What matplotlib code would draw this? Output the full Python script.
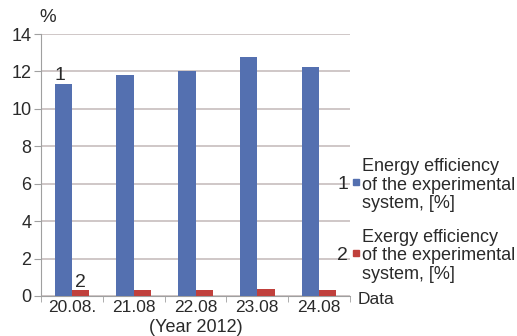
import matplotlib.pyplot as plt
import numpy as np

plt.rcParams["font.family"] = ["Liberation Sans", "DejaVu Sans"]

dates = ["20.08.", "21.08", "22.08", "23.08", "24.08"]
energy = [11.33, 11.8, 12.0, 12.76, 12.23]
exergy = [0.3, 0.3, 0.3, 0.4, 0.3]
series_labels = ["Energy efficiency\nof the experimental\nsystem, [%]",
                 "Exergy efficiency\nof the experimental\nsystem, [%]"]
yticks = [0, 2, 4, 6, 8, 10, 12, 14]

blue = "#5470b0"
red = "#c0403c"
grid_c = "#cfc7c7"
axis_c = "#a0a0a0"
txt_c = "#2a2a2a"

fig = plt.figure(figsize=(5.17, 3.36), dpi=100)
ax = fig.add_axes([41 / 517, 1 - 296 / 336, 309 / 517, 262 / 336])

x = np.arange(len(dates))
w = 0.28
ax.bar(x - w / 2, energy, w, color=blue, zorder=3)
ax.bar(x + w / 2, exergy, w, color=red, zorder=3)

ax.set_xlim(-0.5, len(dates) - 0.5)
ax.set_ylim(0, 14)
ax.set_yticks(yticks)
ax.yaxis.grid(True, color=grid_c, lw=1.4, zorder=0)
for s in ["top", "right"]:
    ax.spines[s].set_visible(False)
ax.spines["left"].set_color(axis_c)
ax.spines["bottom"].set_color(axis_c)
ax.tick_params(axis="y", length=5, color=axis_c, labelsize=13, pad=2,
               labelcolor=txt_c)
ax.set_xticks(np.arange(len(dates) + 1) - 0.5, minor=True)
ax.tick_params(axis="x", which="minor", length=4, color=axis_c)
ax.set_xticks(x)
ax.set_xticklabels(dates)
ax.tick_params(axis="x", which="major", length=0, labelsize=12.5, pad=3,
               labelcolor=txt_c)

# series numbers on the first group
ax.text(x[0] - w, energy[0] + 0.02, "1", fontsize=14, va="bottom",
        ha="left", color=txt_c)
ax.text(x[0] + w / 2, exergy[0] - 0.05, "2", fontsize=14, va="bottom",
        ha="center", color=txt_c)

fig.text(39 / 517, 1 - 18 / 336, "%", fontsize=13.5, ha="left",
         va="center", color=txt_c)
fig.text(358 / 517, 1 - 299 / 336, "Data", fontsize=12.5, ha="left",
         va="center", color=txt_c)
fig.text(196 / 517, 1 - 327 / 336, "(Year 2012)", fontsize=13,
         ha="center", va="center", color=txt_c)

# legend: number, colour key and label
entries = [(184, blue, "1", series_labels[0]),
           (255, red, "2", series_labels[1])]
for yc, col, num, lab in entries:
    ly = 1 - yc / 336
    fig.text(348 / 517, ly, num, fontsize=14, ha="right", va="center",
             color=txt_c)
    fig.patches.append(plt.Rectangle((353 / 517, ly - 1 / 336), 6 / 517,
                                     6 / 336, color=col,
                                     transform=fig.transFigure, figure=fig))
    fig.text(362 / 517, ly - 1 / 336, lab, fontsize=13, ha="left",
             va="center", color=txt_c, linespacing=1.12)

fig.savefig("out.png", dpi=100)
